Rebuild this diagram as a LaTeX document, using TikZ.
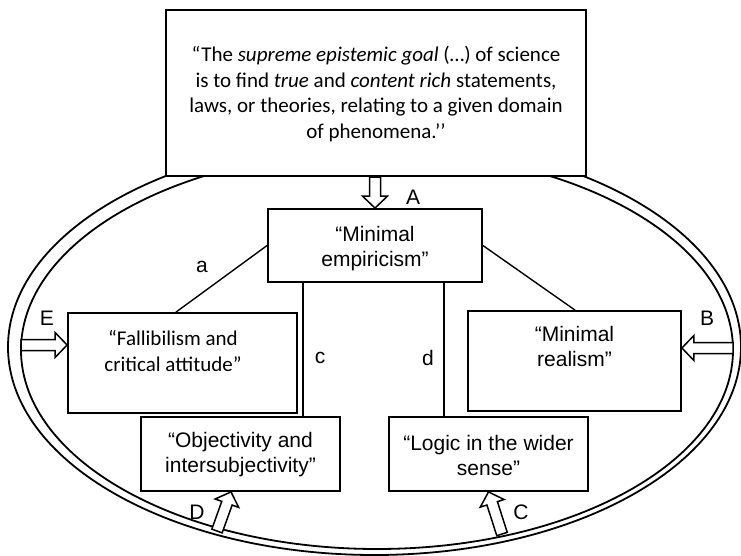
\documentclass[tikz,border=0pt]{standalone}
\usepackage{fontspec}
\setmainfont{Liberation Sans}
\newfontfamily\calib{Carlito}
\usetikzlibrary{calc}

% hollow block arrow from #1 (tail) to #2 (tip)
\newcommand\hollowarrow[2]{%
  \coordinate (hb) at ($(#2)!12pt!(#1)$);
  \draw[hollow] ($(#1)!5.5pt!90:(#2)$) -- ($(hb)!5.5pt!90:(#2)$)
    -- ($(hb)!12.5pt!90:(#2)$) -- (#2) -- ($(hb)!12.5pt!-90:(#2)$)
    -- ($(hb)!5.5pt!-90:(#2)$) -- ($(#1)!5.5pt!-90:(#2)$) -- cycle;}

\begin{document}
\begin{tikzpicture}[x=1pt,y=-1pt,
  box/.style={draw, line width=1.8pt, fill=white, inner sep=0pt},
  link/.style={line width=1.4pt},
  arial/.style={font=\fontsize{21pt}{25pt}\selectfont, align=center, inner sep=0pt},
  calibri/.style={font=\calib\fontsize{21pt}{25.7pt}\selectfont, align=center, inner sep=0pt},
  tag/.style={font=\fontsize{21pt}{25pt}\selectfont, inner sep=0pt},
  hollow/.style={draw, line width=1.5pt, fill=white, line join=miter},
  rim/.style={line width=1.8pt}]
\useasboundingbox (0,0) rectangle (741,556);

% double ellipse
\draw[rim] (374.5,347) ellipse [x radius=366.5pt, y radius=208pt];
\draw[rim] (377,350) ellipse [x radius=356pt, y radius=199pt];

% boxes
\node[box, line width=2.4pt, minimum width=420pt, minimum height=166pt] (goal) at (376,93) {};
\node[calibri] (goalT) at (376,94) {%
  “The \textit{supreme epistemic goal} (…) of science\\
  is to find \textit{true} and \textit{content rich} statements,\\
  laws, or theories, relating to a given domain\\
  of phenomena.’’};

\node[box, minimum width=214pt, minimum height=73pt] (me) at (375,245.5) {};
\node[arial] (meT) at (375,248.5) {“Minimal\\empiricism”};

\node[box, minimum width=229pt, minimum height=100pt] (fal) at (182.5,363) {};
\node[calibri] (falT) at (173,351) {“Fallibilism and\\critical attitude”};

\node[box, minimum width=213pt, minimum height=100pt] (real) at (574.5,361) {};
\node[arial] (realT) at (574.5,346) {“Minimal\\realism”};

\node[box, minimum width=199pt, minimum height=74pt] (obj) at (240.5,454) {};
\node[arial] (objT) at (240.5,455) {“Objectivity and\\intersubjectivity”};

\node[box, minimum width=199pt, minimum height=74pt] (logic) at (488.5,454) {};
\node[arial] (logicT) at (488.5,455) {“Logic in the wider\\sense”};

% connectors between the principles
\draw[link] (me.west) -- (fal.north -| 176,0);
\draw[link] (me.east) -- (real.north -| 575,0);
\draw[link] (me.south -| 303,0) -- (obj.north -| 303,0);
\draw[link] (me.south -| 444,0) -- (logic.north -| 444,0);

% connector labels
\node[tag] (la) at (202,267) {a};
\node[tag] (lc) at (320,358) {c};
\node[tag] (ld) at (428,358) {d};

% inputs into the principles
\coordinate (tA) at (me.north |- goal.south);
\coordinate (tE) at (21,345);
\coordinate (tB) at (733,348);
\coordinate (tD) at (217,531);
\coordinate (tC) at (502,534);
\coordinate (hD) at (obj.south -| 231,0);
\hollowarrow{tA}{me.north}
\hollowarrow{tE}{fal.west |- tE}
\hollowarrow{tB}{real.east |- tB}
\hollowarrow{tD}{hD}
\hollowarrow{tC}{logic.south}

\node[tag] (lA) at (413,197) {A};
\node[tag] (lB) at (707,318) {B};
\node[tag] (lC) at (521,512) {C};
\node[tag] (lD) at (197,512) {D};
\node[tag] (lE) at (47,318) {E};
\end{tikzpicture}
\end{document}
